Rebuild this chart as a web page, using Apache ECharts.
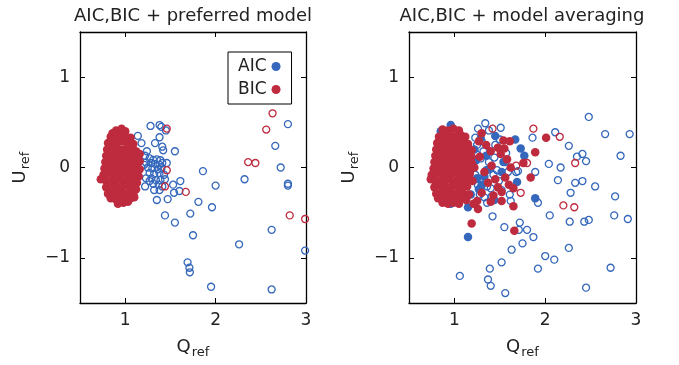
<!DOCTYPE html>
<html>
<head>
<meta charset="utf-8">
<script src="https://cdn.jsdelivr.net/npm/echarts@6/dist/echarts.min.js"></script>
<style>
  html, body { margin: 0; padding: 0; background: #fff; }
  #main { width: 679px; height: 365px; }
</style>
</head>
<body>
<div id="main"></div>
<script>
// tick positions
const xTicks = [1, 2, 3];
const yTicks = [-1, 0, 1];
const titles = ['AIC,BIC + preferred model', 'AIC,BIC + model averaging'];

// ---- left panel: preferred model ----
const leftBicFill = [
  [0.90,0.41],[0.96,0.43],[1.00,0.40],[0.86,0.38],
  [0.84,0.34],[0.90,0.35],[0.95,0.36],[1.01,0.34],[1.06,0.33],
  [0.81,0.27],[0.86,0.29],[0.92,0.28],[0.98,0.29],[1.04,0.27],[1.09,0.26],
  [0.80,0.20],[0.85,0.22],[0.91,0.21],[0.97,0.20],[1.03,0.22],[1.08,0.20],[1.12,0.18],
  [0.79,0.13],[0.84,0.15],[0.90,0.14],[0.96,0.13],[1.02,0.15],[1.07,0.13],[1.13,0.12],[1.16,0.15],
  [0.78,0.06],[0.83,0.08],[0.89,0.07],[0.95,0.06],[1.01,0.08],[1.06,0.07],[1.12,0.05],[1.16,0.07],
  [0.77,-0.01],[0.82,0.01],[0.88,0.00],[0.94,-0.01],[1.00,0.01],[1.05,-0.01],[1.11,0.00],[1.16,-0.02],
  [0.76,-0.08],[0.81,-0.06],[0.87,-0.07],[0.93,-0.08],[0.99,-0.06],[1.04,-0.07],[1.10,-0.08],[1.15,-0.10],
  [0.73,-0.13],[0.79,-0.15],[0.85,-0.14],[0.91,-0.13],[0.97,-0.15],[1.03,-0.14],[1.08,-0.15],[1.13,-0.17],
  [0.79,-0.22],[0.84,-0.20],[0.90,-0.21],[0.96,-0.22],[1.02,-0.20],[1.07,-0.22],[1.12,-0.24],
  [0.81,-0.29],[0.86,-0.27],[0.92,-0.28],[0.98,-0.29],[1.04,-0.27],[1.09,-0.29],
  [0.84,-0.34],[0.89,-0.35],[0.95,-0.33],[1.01,-0.35],[1.06,-0.34],[1.10,-0.33],
  [0.92,-0.40],[0.98,-0.39],[1.03,-0.38]
];
const leftAicOpen = [
  [1.28,0.46],[1.38,0.47],[1.40,0.45],[1.45,0.41],[1.14,0.35],[1.38,0.335],[1.18,0.27],
  [1.33,0.27],[1.41,0.23],[1.42,0.19],[1.55,0.18],[1.24,0.18],[1.22,0.13],
  [1.27,0.10],[1.31,0.085],[1.35,0.09],[1.39,0.08],[1.23,0.055],[1.29,0.05],[1.33,0.04],
  [1.38,0.03],[1.41,0.05],[1.46,0.05],[1.25,0.0],[1.30,-0.01],[1.36,-0.02],[1.40,-0.01],
  [1.27,-0.06],[1.32,-0.07],[1.38,-0.06],[1.43,-0.08],[1.29,-0.12],[1.34,-0.14],[1.39,-0.14],
  [1.44,-0.13],[1.27,-0.15],[1.31,-0.18],[1.37,-0.19],[1.41,-0.21],[1.53,-0.19],[1.61,-0.15],
  [1.60,-0.26],[1.54,-0.28],[1.35,-0.36],[1.47,-0.35],[1.44,-0.53],[1.55,-0.61],[1.72,-0.51],
  [1.21,0.03],[1.23,-0.12],[1.22,-0.21],[1.32,-0.25],[1.38,-0.25],
  [1.86,-0.04],[2.00,-0.20],[1.81,-0.38],[1.96,-0.44],[1.75,-0.75],[1.69,-1.05],[1.71,-1.11],
  [1.715,-1.16],[1.95,-1.32],[2.26,-0.85],[2.32,-0.13],[2.80,0.48],[2.66,0.24],[2.72,0.0],
  [2.80,-0.18],[2.80,-0.20],[2.62,-0.69],[2.62,-1.35],[2.99,-0.92]
];
const leftBicOpen = [
  [1.46,0.43],[1.46,-0.03],[1.44,-0.21],[1.67,-0.27],[2.36,0.06],[2.44,0.05],
  [2.56,0.42],[2.63,0.60],[2.82,-0.53],[2.99,-0.57]
];

// ---- right panel: model averaging ----
const rightAicFill = [
  [0.96,0.47],[0.80,-0.19],[0.96,-0.40],[1.15,-0.44],[1.15,-0.77],[1.25,-0.12],[1.30,-0.20],
  [1.33,-0.10],[1.27,-0.24],[1.35,0.13],[1.45,0.35],[1.67,0.31],[1.73,0.21],[1.77,0.13],
  [1.69,-0.16],[1.89,-0.34],[1.54,0.06],[1.44,-0.36],[1.22,0.20],[1.24,0.08],[1.38,-0.02],
  [1.52,-0.05],[1.29,0.32],[0.79,-0.05],[0.85,0.40],[1.18,-0.30]
];
const rightBicFill = [
  [0.87,0.42],[0.93,0.41],[0.99,0.43],[1.05,0.41],
  [0.83,0.34],[0.89,0.36],[0.95,0.35],[1.01,0.34],[1.07,0.36],[1.12,0.34],
  [0.81,0.27],[0.86,0.29],[0.92,0.28],[0.98,0.27],[1.04,0.29],[1.10,0.28],[1.15,0.26],
  [0.80,0.20],[0.85,0.22],[0.91,0.21],[0.97,0.20],[1.03,0.22],[1.09,0.20],[1.15,0.21],[1.19,0.19],
  [0.79,0.13],[0.84,0.15],[0.90,0.14],[0.96,0.13],[1.02,0.15],[1.08,0.13],[1.14,0.14],[1.19,0.12],
  [0.78,0.06],[0.83,0.08],[0.89,0.07],[0.95,0.06],[1.01,0.08],[1.07,0.06],[1.13,0.07],[1.19,0.05],
  [0.77,-0.01],[0.82,0.01],[0.88,0.00],[0.94,-0.01],[1.00,0.01],[1.06,-0.01],[1.12,0.00],[1.18,-0.02],[1.22,0.00],
  [0.75,-0.08],[0.81,-0.06],[0.87,-0.07],[0.93,-0.08],[0.99,-0.06],[1.05,-0.07],[1.11,-0.08],[1.17,-0.07],
  [0.74,-0.13],[0.79,-0.15],[0.85,-0.14],[0.91,-0.13],[0.97,-0.15],[1.03,-0.14],[1.09,-0.15],[1.15,-0.13],[1.20,-0.15],
  [0.78,-0.22],[0.84,-0.20],[0.90,-0.21],[0.96,-0.22],[1.02,-0.20],[1.08,-0.22],[1.14,-0.21],
  [0.80,-0.29],[0.86,-0.27],[0.92,-0.28],[0.98,-0.29],[1.04,-0.27],[1.10,-0.29],[1.16,-0.30],
  [0.82,-0.34],[0.88,-0.35],[0.94,-0.33],[1.00,-0.35],[1.06,-0.34],[1.13,-0.36],
  [0.87,-0.39],[0.93,-0.40],[0.99,-0.39],[1.05,-0.40],[1.21,-0.40],
  [1.19,-0.62],[1.26,-0.46],[1.25,-0.37],[1.30,0.38],[1.27,0.29],[1.35,0.25],[1.40,0.18],
  [1.43,-0.31],[1.52,-0.27],[1.52,-0.37],[1.56,-0.11],[1.60,-0.19],[1.58,0.09],[1.54,0.30],
  [1.61,0.29],[1.65,-0.43],[1.66,-0.70],[1.65,-0.23],[1.76,0.05],[1.84,-0.11],[1.89,0.17],
  [2.01,0.33],[1.51,0.15],[1.41,0.02],[1.33,-0.05],[1.37,-0.17],[1.45,-0.13],[1.48,0.22],
  [1.28,0.12],[1.30,-0.28],[1.40,-0.38],[1.55,0.21],[1.62,0.0],[1.48,-0.22]
];
const rightAicOpen = [
  [1.34,0.49],[1.51,0.44],[1.26,0.43],[1.86,0.33],[2.11,0.39],[2.48,0.56],[2.66,0.37],
  [2.93,0.37],[2.26,0.24],[2.35,0.12],[2.41,0.15],[2.45,0.07],[2.83,0.13],[2.04,0.04],
  [2.17,0.0],[1.89,-0.05],[2.14,-0.14],[2.33,-0.17],[2.41,-0.15],[2.55,-0.21],[2.28,-0.28],
  [2.77,-0.32],[1.92,-0.39],[2.05,-0.53],[2.27,-0.60],[2.43,-0.60],[2.48,-0.58],[2.76,-0.53],
  [2.91,-0.57],[1.87,-0.77],[1.80,-0.69],[1.72,-0.61],[1.71,-0.69],[1.75,-0.84],[1.55,-0.66],
  [1.42,-0.54],[1.63,-0.91],[2.26,-0.89],[2.00,-0.98],[2.10,-1.02],[1.92,-1.12],[1.52,-1.05],
  [1.39,-1.12],[1.37,-1.24],[1.40,-1.31],[1.56,-1.39],[1.06,-1.20],[2.45,-1.33],[2.72,-1.11],
  [1.61,-0.30],[1.62,-0.37],[1.68,-0.05],[1.70,-0.04],[1.30,0.29],[1.38,0.41],[1.23,0.33],
  [1.30,-0.19],[1.36,-0.21],[1.28,-0.30],[1.41,-0.32],[1.36,-0.39],
  [1.25,0.25],[1.32,0.18],[1.29,0.10],[1.38,0.06],[1.44,0.11],[1.35,-0.03],[1.43,-0.08],
  [1.47,-0.03],[1.29,-0.12],[1.40,-0.23],[1.49,-0.15],[1.33,-0.33],[1.26,-0.20],[1.52,-0.25],
  [1.45,0.25],[1.23,-0.08],[1.57,0.16],[1.50,0.31],[1.59,-0.05],[1.56,0.06],[1.24,0.15]
];
const rightBicOpen = [
  [1.42,0.43],[1.87,0.43],[2.16,0.34],[2.33,0.05],[1.68,0.02],[1.80,0.05],
  [1.73,-0.28],[2.20,-0.42],[2.32,-0.44]
];

const blue = '#3568bc';
const red = '#be2a3e';
const font = 'DejaVu Sans';

const minusFmt = v => (v < 0 ? '\u2212' + Math.abs(v) : String(v));

function xAxis(grid, pos) {
  const bottom = pos === 'bottom';
  return {
    type: 'value', gridIndex: grid, position: pos, min: 0.5, max: 3,
    splitLine: { show: false },
    axisLine: { onZero: false, lineStyle: { color: '#000', width: 1.3 } },
    axisTick: { inside: true, length: 5, customValues: xTicks, lineStyle: { color: '#000', width: 1 } },
    axisLabel: { show: bottom, customValues: xTicks, margin: 9, color: '#222', fontSize: 17, fontFamily: font },
    name: bottom ? '{a|Q}{b|ref}' : '',
    nameLocation: 'middle', nameGap: 33,
    nameTextStyle: {
      rich: {
        a: { fontSize: 18, fontFamily: font, color: '#222' },
        b: { fontSize: 13, fontFamily: font, color: '#222', padding: [10, 0, 0, 1] }
      }
    }
  };
}
function yAxis(grid, pos) {
  const left = pos === 'left';
  return {
    type: 'value', gridIndex: grid, position: pos, min: -1.5, max: 1.5,
    splitLine: { show: false },
    axisLine: { onZero: false, lineStyle: { color: '#000', width: 1.3 } },
    axisTick: { inside: true, length: 5, customValues: yTicks, lineStyle: { color: '#000', width: 1 } },
    axisLabel: { show: left, customValues: yTicks, margin: 10, color: '#222', fontSize: 17, fontFamily: font, formatter: minusFmt },
    name: left ? '{a|U}{b|ref}' : '',
    nameLocation: 'middle', nameGap: 48,
    nameTextStyle: {
      rich: {
        a: { fontSize: 18, fontFamily: font, color: '#222' },
        b: { fontSize: 13, fontFamily: font, color: '#222', padding: [10, 0, 0, 1] }
      }
    }
  };
}

function filled(name, grid, data, color) {
  return {
    name: name, type: 'scatter', xAxisIndex: grid * 2, yAxisIndex: grid * 2,
    data: data, symbol: 'circle', symbolSize: 8.5,
    itemStyle: { color: color, opacity: 1, borderWidth: 0 },
    emphasis: { disabled: true }
  };
}
function ring(name, grid, data, color) {
  return {
    name: name, type: 'scatter', xAxisIndex: grid * 2, yAxisIndex: grid * 2,
    data: data, symbol: 'circle', symbolSize: 7,
    itemStyle: { color: 'rgba(0,0,0,0)', borderColor: color, borderWidth: 1.3, opacity: 1 },
    emphasis: { disabled: true }
  };
}

const chart = echarts.init(document.getElementById('main'));
chart.setOption({
  animation: false,
  backgroundColor: '#fff',
  title: [
    { text: titles[0], left: 193, top: 7, textAlign: 'center', padding: 0,
      textStyle: { fontSize: 18, fontWeight: 'normal', fontFamily: font, color: '#222' } },
    { text: titles[1], left: 522, top: 7, textAlign: 'center', padding: 0,
      textStyle: { fontSize: 18, fontWeight: 'normal', fontFamily: font, color: '#222' } }
  ],
  legend: {
    data: [{ name: 'AIC', icon: 'circle' }, { name: 'BIC', icon: 'circle' }],
    orient: 'vertical', left: 228, top: 52, align: 'right',
    itemWidth: 9, itemHeight: 9, itemGap: 6,
    padding: [6, 11, 6, 10],
    borderColor: '#000', borderWidth: 1, backgroundColor: '#fff',
    selectedMode: false,
    textStyle: { fontSize: 17, fontFamily: font, color: '#222' }
  },
  grid: [
    { left: 80, top: 32, width: 226, height: 271 },
    { left: 409, top: 32, width: 227, height: 271 }
  ],
  xAxis: [xAxis(0, 'bottom'), xAxis(0, 'top'), xAxis(1, 'bottom'), xAxis(1, 'top')],
  yAxis: [yAxis(0, 'left'), yAxis(0, 'right'), yAxis(1, 'left'), yAxis(1, 'right')],
  series: [
    ring('AIC open', 0, leftAicOpen, blue),
    ring('BIC open', 0, leftBicOpen, red),
    filled('BIC', 0, leftBicFill, red),
    filled('AIC', 1, rightAicFill, blue),
    ring('AIC open', 1, rightAicOpen, blue),
    filled('BIC', 1, rightBicFill, red),
    ring('BIC open', 1, rightBicOpen, red)
  ]
});
</script>
</body>
</html>
